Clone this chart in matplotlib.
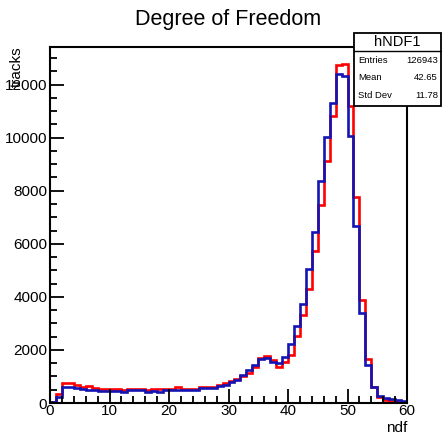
import numpy as np
import matplotlib
matplotlib.use("Agg")
import matplotlib.pyplot as plt
from matplotlib.ticker import MultipleLocator
from matplotlib.patches import Rectangle

plt.rcParams['font.family'] = ['Liberation Sans', 'DejaVu Sans']

# 60 unit-width bins over ndf = 0..60
bin_edges = np.arange(0, 61, 1)

# hNDF1 (red)
counts_red = [
    50, 330, 770, 770, 680, 590, 640, 555, 520, 520,
    520, 520, 500, 540, 540, 540, 500, 530, 510, 540,
    540, 590, 520, 520, 520, 620, 620, 620, 680, 745,
    845, 900, 1000, 1130, 1350, 1690, 1780, 1630, 1350, 1560,
    1820, 2510, 3330, 4300, 5730, 7450, 9130, 10830, 12740, 12780,
    11210, 7770, 3900, 1650, 620, 230, 110, 80, 60, 30,
]

# second sample (blue)
counts_blue = [
    50, 220, 620, 620, 555, 520, 490, 490, 470, 470,
    470, 470, 430, 490, 490, 490, 430, 470, 430, 490,
    490, 490, 490, 490, 490, 555, 555, 555, 640, 680,
    810, 870, 1060, 1250, 1440, 1650, 1690, 1560, 1500, 1750,
    2230, 2890, 3750, 5060, 6430, 8370, 10030, 11290, 12420, 12320,
    10080, 6680, 3400, 1440, 600, 265, 180, 140, 110, 60,
]

title = "Degree of Freedom"
x_label = "ndf"
y_label = "tracks"
stats_name = "hNDF1"
stats_rows = [("Entries", "126943"), ("Mean", "42.65"), ("Std Dev", "11.78")]

W, H = 442, 436
fig = plt.figure(figsize=(W / 100, H / 100), dpi=100)
ax = fig.add_axes([50 / W, 1 - 403 / H, 357 / W, 356 / H])

ax.stairs(counts_red, bin_edges, color="#ff0000", linewidth=1.9)
ax.stairs(counts_blue, bin_edges, color="#1414b4", linewidth=1.9)

ax.set_xlim(0, 60)
ax.set_ylim(0, max(counts_red) * 1.05)

ax.xaxis.set_major_locator(MultipleLocator(10))
ax.xaxis.set_minor_locator(MultipleLocator(2))
ax.yaxis.set_major_locator(MultipleLocator(2000))
ax.yaxis.set_minor_locator(MultipleLocator(500))
ax.tick_params(which="both", direction="in", top=False, right=False,
               labelsize=11, width=1.3, colors="black")
ax.tick_params(which="major", length=10)
ax.tick_params(which="minor", length=5)
ax.tick_params(axis="x", pad=1)
ax.tick_params(axis="y", pad=2)
for s in ax.spines.values():
    s.set_linewidth(1.5)

fig.text(228 / W, 1 - 20 / H, title, ha="center", va="center", fontsize=15.5)
fig.text(407 / W, 1 - 428 / H, x_label, ha="right", va="center", fontsize=11)
fig.text(17 / W, 1 - 46 / H, y_label, ha="center", va="top", rotation=90,
         fontsize=11)

# statistics box
bx0, bx1, by0, by1 = 354, 441, 33, 106
fig.patches.append(Rectangle((bx0 / W, 1 - by1 / H), (bx1 - bx0) / W,
                             (by1 - by0) / H, transform=fig.transFigure,
                             facecolor="white", edgecolor="black",
                             linewidth=1.3, zorder=5))
fig.lines.append(plt.Line2D([bx0 / W, bx1 / W], [1 - 51 / H, 1 - 51 / H],
                            transform=fig.transFigure, color="black",
                            linewidth=1.0, zorder=6))
fig.text((bx0 + bx1) / 2 / W, 1 - 42.5 / H, stats_name, ha="center",
         va="center", fontsize=10.5, zorder=7)
for i, (k, v) in enumerate(stats_rows):
    y = 1 - (60 + 17.5 * i) / H
    fig.text(358 / W, y, k, ha="left", va="center", fontsize=6.8, zorder=7)
    fig.text(438 / W, y, v, ha="right", va="center", fontsize=6.8, zorder=7)

fig.savefig("out.png", dpi=100)
